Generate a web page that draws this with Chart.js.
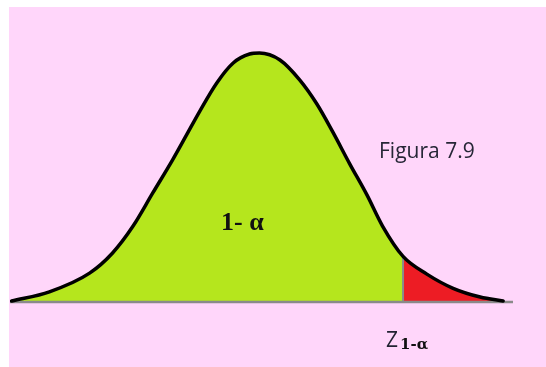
<!DOCTYPE html>
<html>
<head>
<meta charset="utf-8">
<script src="https://cdn.jsdelivr.net/npm/chart.js@4.4.1/dist/chart.umd.min.js"></script>
<style>
    html, body { margin: 0; padding: 0; background: #fff; }
    #wrap { position: relative; width: 546px; height: 367px; background: #fff; overflow: hidden; }
    #paper { position: absolute; left: 9px; top: 7px; right: 0; bottom: 0; background: #ffd6fa; }
    #chart { position: absolute; left: 0; top: 0; }
</style>
</head>
<body>
<div id="wrap">
    <div id="paper"></div>
    <canvas id="chart" width="546" height="367"></canvas>
</div>
<script>
// curve: position along the axis (in sigma units) and relative height
const zValues = [-3.0, -2.54, -2.05, -1.77, -1.52, -1.28, -1.04, -0.87, -0.71, -0.50, -0.30, -0.10, 0.02, 0.27, 0.51, 0.72, 0.91, 1.12, 1.33, 1.52, 1.77, 2.06, 2.38, 2.71, 2.99];
const density = [0.004, 0.041, 0.116, 0.197, 0.305, 0.438, 0.57, 0.67, 0.765, 0.880, 0.960, 0.996, 1.0, 0.972, 0.892, 0.795, 0.685, 0.555, 0.43, 0.305, 0.183, 0.112, 0.055, 0.020, 0.004];
const cutZ = 1.77;             // z(1-alpha), where the red tail starts
const axisRange = [-3.02, 3.11];

const points = zValues.map((z, i) => ({ x: z, y: density[i] }));
const cutIndex = zValues.indexOf(cutZ);
const bodyPoints = points.slice(0, cutIndex + 1);
const tailPoints = points.slice(cutIndex);

const labelsPlugin = {
    id: 'figureLabels',
    afterDraw(chart) {
        const ctx = chart.ctx;
        ctx.save();
        ctx.textBaseline = 'alphabetic';
        ctx.textAlign = 'left';

        ctx.fillStyle = '#262636';
        ctx.font = '21px "Open Sans"';
        ctx.fillText('Figura 7.9', 379, 158);

        ctx.fillStyle = '#111';
        ctx.font = 'bold 26px "Liberation Serif"';
        ctx.fillText('1- α', 221, 230);

        ctx.fillStyle = '#222232';
        ctx.font = '21px "Open Sans"';
        ctx.fillText('Z', 386, 347);
        ctx.fillStyle = '#111';
        ctx.font = 'bold 15px "DejaVu Serif"';
        ctx.fillText('1-α', 400, 349);
        ctx.restore();
    }
};

new Chart(document.getElementById('chart'), {
    type: 'line',
    data: {
        datasets: [
            {
                label: 'curva',
                data: points,
                borderColor: '#000',
                borderWidth: 3.5,
                borderCapStyle: 'round',
                cubicInterpolationMode: 'monotone',
                pointRadius: 0,
                fill: false,
                clip: false,
                order: 1
            },
            {
                label: 'corte',
                data: [{ x: cutZ, y: 0 }, { x: cutZ, y: density[cutIndex] }],
                borderColor: '#8a8a8a',
                borderWidth: 2,
                pointRadius: 0,
                fill: false,
                clip: false,
                order: 2
            },
            {
                label: 'eje',
                data: axisRange.map((x) => ({ x, y: 0 })),
                borderColor: '#8a8a8a',
                borderWidth: 2.5,
                pointRadius: 0,
                fill: false,
                clip: false,
                order: 3
            },
            {
                label: 'alfa',
                data: tailPoints,
                borderColor: 'rgba(0,0,0,0)',
                borderWidth: 0,
                backgroundColor: '#ed1c24',
                cubicInterpolationMode: 'monotone',
                pointRadius: 0,
                fill: 'origin',
                order: 4
            },
            {
                label: '1-alfa',
                data: bodyPoints,
                borderColor: 'rgba(0,0,0,0)',
                borderWidth: 0,
                backgroundColor: '#b5e61d',
                cubicInterpolationMode: 'monotone',
                pointRadius: 0,
                fill: 'origin',
                order: 5
            }
        ]
    },
    options: {
        responsive: false,
        devicePixelRatio: 1,
        animation: false,
        layout: { padding: { left: 10, right: 33, top: 53, bottom: 65 } },
        plugins: {
            legend: { display: false },
            tooltip: { enabled: false }
        },
        scales: {
            x: { type: 'linear', min: axisRange[0], max: axisRange[1], display: false },
            y: { type: 'linear', min: 0, max: 1, display: false }
        }
    },
    plugins: [labelsPlugin]
});
</script>
</body>
</html>
